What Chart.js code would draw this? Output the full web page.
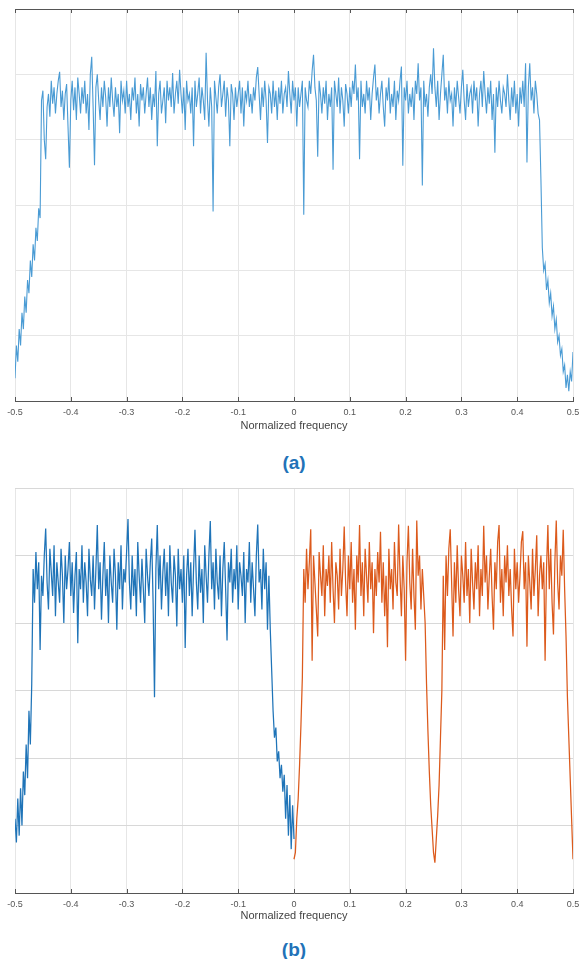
<!DOCTYPE html>
<html>
<head>
<meta charset="utf-8">
<script src="https://cdn.jsdelivr.net/npm/chart.js@4.4.1/dist/chart.umd.min.js"></script>
<style>
    html, body { margin: 0; padding: 0; background: #fff; overflow: hidden; }
    body { width: 579px; height: 959px; position: relative; }
    canvas { position: absolute; left: 0; }
    #chartA { top: 0; }
    #chartB { top: 479px; }
    .axis-title {
        position: absolute; left: 15px; width: 558px; text-align: center;
        font: 11px "Liberation Sans", Arial, sans-serif; line-height: 1; color: #444;
    }
    .panel-label {
        position: absolute; left: 15px; width: 558px; text-align: center;
        font: bold 19px "Liberation Sans", Arial, sans-serif; line-height: 1; color: #2272b8;
    }
</style>
</head>
<body>
<canvas id="chartA" width="600" height="421"></canvas>
<canvas id="chartB" width="600" height="434"></canvas>
<div class="axis-title" style="top:420px">Normalized frequency</div>
<div class="panel-label" style="top:453px">(a)</div>
<div class="axis-title" style="top:910px">Normalized frequency</div>
<div class="panel-label" style="top:940px">(b)</div>

<script>
// Frequency grid and axis ticks
const freqStep = 0.0025;
const xTicks = [-0.5, -0.4, -0.3, -0.2, -0.1, 0, 0.1, 0.2, 0.3, 0.4, 0.5];
const xTickLabels = ['-0.5', '-0.4', '-0.3', '-0.2', '-0.1', '0', '0.1', '0.2', '0.3', '0.4', '0.5'];

// (a) spectrum in dB, from -0.5 to 0.5
const spectrumA = [
    -56.5, -51.5, -54, -49, -51.5, -46.5, -49, -44, -46.5, -41.5,
    -43.5, -38.5, -41, -36, -38.5, -33.5, -35.5, -30.5, -32, -14,
    -12.5, -20, -23, -15, -13, -16.5, -11, -14.5, -12, -16,
    -13, -11, -9.6, -15, -12.5, -17, -13, -11.5, -18, -24.3,
    -14, -11, -15.5, -12, -17, -10.5, -13, -16, -12, -14.5,
    -11, -16, -13, -18.5, -10, -7.3, -15, -23.9, -12, -10,
    -14, -17, -12, -15, -11, -13.5, -18, -12, -15, -10.5,
    -14, -16.5, -12, -15, -13, -19, -11, -14, -12.5, -16,
    -11, -15, -13, -17, -12, -14, -10.5, -16, -13, -18,
    -11.5, -14, -12, -16, -13, -10.5, -15, -12, -17, -13,
    -15, -9.5, -21, -13, -11, -16, -14, -12, -17.5, -11,
    -14, -12, -15, -9.8, -16, -13, -11, -14.5, -9.3, -13,
    -16, -12, -18.5, -11, -14, -13, -16, -12, -21, -11,
    -15, -13, -10.5, -16, -12, -14, -17, -6.7, -14, -18,
    -12, -15, -31, -11, -13.5, -16, -12, -10, -15, -13,
    -11, -16.5, -12, -14, -21, -11.5, -13, -17, -12, -15,
    -13, -11, -16, -12, -18, -12.5, -14, -11, -15, -13,
    -16, -12, -14, -10.5, -8.9, -13, -17, -12, -15, -11,
    -14, -20.5, -12, -13, -16, -11, -15, -12.5, -17, -12,
    -14.5, -11, -16, -13, -12, -15, -9.5, -13, -16, -11,
    -14, -12, -18, -12, -15, -13, -11, -31.5, -12, -14,
    -15, -11, -13, -9.5, -7, -12, -14, -22.6, -11, -13,
    -16, -12, -14.5, -11, -17, -13, -15, -12, -24.6, -11,
    -13, -15, -10.5, -16, -12, -14, -18, -11.5, -13, -16,
    -12, -15, -11, -13, -8.5, -14, -12, -23, -11, -15,
    -13, -16, -11, -14, -12, -17, -13, -10.5, -8.5, -14,
    -12, -16, -13, -11, -15, -18, -12, -14, -10.5, -16,
    -13, -15, -11, -17, -12.5, -14, -11, -8.8, -24, -12,
    -14, -11, -16, -13, -15, -12, -17, -11, -13, -8.3,
    -14, -12, -27, -11, -15, -13, -16.5, -12, -10, -13,
    -6, -12, -15, -11, -17, -13, -10, -7, -14, -12,
    -16, -11, -14, -13, -18, -12, -15, -11, -13.5, -16,
    -12, -9.3, -14, -17, -11.5, -15, -13, -12, -16, -11,
    -14, -12, -18, -13, -11, -15, -9.5, -13, -16, -12,
    -14.5, -11, -17, -13, -22, -12, -15, -11, -14, -16,
    -12, -13, -15, -10, -14, -17, -12, -15, -11, -16,
    -13, -18, -12, -14.5, -11, -15, -8.3, -23.5, -12, -8.3,
    -14, -12, -16, -11, -13, -16, -17, -26, -36.5, -40,
    -39, -43, -41.5, -45, -43.5, -47, -45.5, -49, -47.5, -51,
    -50, -53, -52, -55.5, -54.5, -58, -56, -58.5, -55.5, -57,
    -52.5
];

// (b) first band in dB, from -0.5 to 0
const bandBlue = [
    -49, -52.5, -46, -51.5, -44.5, -50, -42, -45.5, -38, -43,
    -33, -38, -29, -12, -17, -9.5, -15, -11, -24, -13,
    -16, -10, -6, -14, -18, -9, -12.5, -16, -8.5, -19,
    -11, -14, -17, -9, -13, -20, -10, -15, -12, -8,
    -16, -11, -18.5, -13, -9.5, -23, -12, -15, -8.5, -17,
    -11, -14, -19, -9, -13.5, -16, -10, -18, -12, -5.5,
    -15, -11, -19.5, -13, -8, -16, -12, -20, -10, -14,
    -17, -9, -13, -21, -11, -15, -8.5, -18, -12, -14,
    -9.5, -4.6, -14, -18, -10, -16, -12, -19, -8, -13,
    -17, -10.5, -15, -20, -9, -13, -16, -11, -7.5, -17,
    -31, -12, -5.5, -15, -10, -18, -12.5, -9, -16, -11,
    -19, -8.5, -14, -17, -10, -13, -20.5, -9, -15, -12,
    -17, -10, -23.7, -13, -9, -16, -11, -19, -12, -6.2,
    -14, -18, -10, -15.5, -12, -20, -8.5, -13, -17, -10,
    -4.9, -15, -11, -18, -9, -14, -16.5, -10, -19, -12,
    -8, -15, -22.6, -11, -14, -9, -17, -12, -15, -8.5,
    -18, -11, -13, -16, -9.5, -20, -12, -14, -8, -17,
    -11, -15, -19, -10, -5.4, -14, -12, -18, -9, -15,
    -11, -21, -13, -21, -27, -33, -37, -35.5, -40.5, -39,
    -43, -41, -45, -42.5, -49, -44, -51.5, -45.5, -53.5, -47,
    -52
];

// (b) second and third bands in dB, from 0 to 0.5
const bandOrange = [
    -55, -54, -49, -46, -41, -35, -28, -12, -17, -9,
    -15, -11, -6.1, -25.6, -10, -14, -18, -22, -9.5, -13,
    -16, -8.5, -19, -12, -14.5, -10, -17, -8, -15, -20,
    -11, -13, -18, -9, -16, -12, -5.7, -14, -19, -10,
    -15, -8, -17, -12, -21, -10, -14, -5.5, -16, -11,
    -19, -9, -13, -17, -8, -15, -11, -21.5, -12, -16,
    -9.5, -14, -6.5, -17, -11, -19, -13, -23.6, -9, -15,
    -12, -18, -8, -14, -16, -5.4, -13, -19, -10, -15,
    -25.6, -11, -5.6, -14, -18, -9, -16, -21, -4.8, -13,
    -10, -18, -12, -16, -20, -29, -36, -42, -47, -50.5,
    -54, -55.5, -52, -48.5, -44, -37, -30, -13, -24, -10,
    -16, -9, -6.1, -14, -22, -11, -17, -8.5, -15, -19,
    -10, -13, -17, -8, -16, -12, -20, -9, -14, -18,
    -11, -15, -8.5, -19, -12, -16, -5.6, -14, -10, -18,
    -13, -9, -16, -21, -11, -15, -8, -5.5, -17, -12,
    -19, -10, -14, -8.5, -16, -12, -18, -22, -9, -15,
    -11, -17, -13, -8, -6.4, -15, -11, -23.5, -10, -14,
    -18, -9, -16, -12, -7, -19, -13, -10, -15, -11,
    -25.6, -12, -5.5, -15, -9, -17, -21.7, -11, -4.8, -14,
    -18, -10, -13, -6.2, -15, -22, -31, -37, -43, -49,
    -55
];

// Turn a value list into points on the frequency grid
function toPoints(values, start) {
    return values.map((v, i) => ({ x: start + i * freqStep, y: v }));
}

// Inward tick marks and optional dark top edge (MATLAB box look)
const frameTicks = {
    id: 'frameTicks',
    afterDraw(chart, args, opts) {
        const { ctx, chartArea: a, scales: { x } } = chart;
        ctx.save();
        ctx.strokeStyle = opts.color;
        ctx.lineWidth = 1;
        ctx.beginPath();
        if (opts.topLine) {
            ctx.moveTo(a.left, a.top + 0.5);
            ctx.lineTo(a.right, a.top + 0.5);
        }
        xTicks.forEach(v => {
            const px = Math.round(x.getPixelForValue(v)) + 0.5;
            ctx.moveTo(px, a.bottom);
            ctx.lineTo(px, a.bottom - 4);
            if (opts.topLine) {
                ctx.moveTo(px, a.top);
                ctx.lineTo(px, a.top + 4);
            }
        });
        ctx.stroke();
        ctx.restore();
    }
};

function makeOptions(hGridColor, topLine, lineWidth) {
    return {
        responsive: false,
        animation: false,
        events: [],
        layout: { padding: { top: 9, left: 15, right: 27, bottom: 0 } },
        elements: { point: { radius: 0 }, line: { tension: 0, borderWidth: lineWidth } },
        plugins: {
            legend: { display: false },
            tooltip: { enabled: false },
            frameTicks: { color: '#555', topLine: topLine }
        },
        scales: {
            x: {
                type: 'linear',
                min: -0.5,
                max: 0.5,
                afterBuildTicks: s => { s.ticks = xTicks.map(v => ({ value: v })); },
                afterFit: s => { s.height = 20; },
                ticks: {
                    autoSkip: false,
                    maxRotation: 0,
                    padding: 6,
                    color: '#555',
                    font: { family: '"Liberation Sans", Arial, sans-serif', size: 9 },
                    callback: (v, i) => xTickLabels[i]
                },
                grid: { color: '#e6e6e6', drawTicks: false },
                border: { display: true, color: '#555', width: 1 }
            },
            y: {
                min: -60,
                max: 0,
                ticks: { display: false, stepSize: 10 },
                afterFit: s => { s.width = 0; },
                grid: { color: hGridColor, drawTicks: false },
                border: { display: false }
            }
        }
    };
}

// (a) single wideband spectrum
new Chart(document.getElementById('chartA'), {
    type: 'line',
    data: {
        datasets: [{
            data: toPoints(spectrumA, -0.5),
            borderColor: '#4a9bd4'
        }]
    },
    options: makeOptions('#e6e6e6', true, 1.1),
    plugins: [frameTicks]
});

// (b) split spectrum, two colours
new Chart(document.getElementById('chartB'), {
    type: 'line',
    data: {
        datasets: [
            { data: toPoints(bandBlue, -0.5), borderColor: '#1f74b8' },
            { data: toPoints(bandOrange, 0), borderColor: '#dc5a1c' }
        ]
    },
    options: makeOptions('#d8d8d8', false, 1.25),
    plugins: [frameTicks]
});
</script>
</body>
</html>
